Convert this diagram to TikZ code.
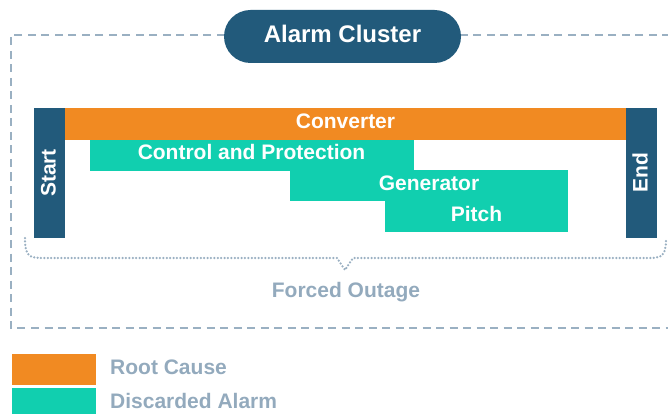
\documentclass[tikz,border=0pt]{standalone}
\usepackage{fontspec}
\setmainfont{Liberation Sans}
\definecolor{navy}{HTML}{225A7B}
\definecolor{rootorange}{HTML}{F18A22}
\definecolor{discteal}{HTML}{11CFAF}
\definecolor{mutedgrey}{HTML}{93AABD}
\definecolor{lineblue}{HTML}{9AB0C2}
\tikzset{
  labelfont/.style={font=\fontsize{21}{25}\selectfont\bfseries},
  bar/.style={labelfont, text=white, inner sep=0pt, outer sep=0pt,
              text height=15pt, text depth=6pt},
  rootbar/.style={bar, fill=rootorange},
  alarmbar/.style={bar, fill=discteal},
  edgebar/.style={bar, fill=navy, rotate=90, minimum width=130pt,
                  minimum height=31pt, text depth=3pt},
  frame/.style={draw=lineblue, line width=2.2pt, dash pattern=on 8pt off 5.5pt},
  bracket/.style={draw=lineblue, line width=2.5pt, line cap=round,
                  dash pattern=on 0pt off 3.4pt},
  greytext/.style={labelfont, text=mutedgrey, inner sep=0pt},
  swatch/.style={inner sep=0pt, minimum width=84pt, minimum height=31pt},
}
\begin{document}
\begin{tikzpicture}[x=1pt,y=-1pt]
\useasboundingbox (0,0) rectangle (668,414);

% dashed cluster frame (open on the right, it runs off the page)
\coordinate (frameTR) at (670,35);
\coordinate (frameTL) at (11,35);
\coordinate (frameBL) at (11,328);
\coordinate (frameBR) at (670,328);
\draw[frame] (frameTR) -- (frameTL) -- (frameBL) -- (frameBR);

% title pill
\node[fill=navy, text=white, font=\fontsize{24}{28}\selectfont\bfseries,
      minimum width=237pt, minimum height=53pt, rounded corners=26.5pt,
      inner sep=0pt, text height=17pt, text depth=4pt]
  (title) at (342.5,36.5) {Alarm Cluster};

% start / end markers
\node[edgebar] (start) at (49.5,173) {Start\hspace{9pt}};
\node[edgebar] (end) at (641.5,173) {End\hspace{9pt}};

% alarm bars
\node[rootbar, minimum width=561pt, minimum height=32pt] (conv) at (345.5,124) {Converter};
\node[alarmbar, minimum width=324pt, minimum height=31pt] (ctrl) at (251.5,155.5) {Control and Protection};
\node[alarmbar, minimum width=278pt, minimum height=31pt] (gen) at (429,185.5) {Generator};
\node[alarmbar, minimum width=183pt, minimum height=31pt] (pitch) at (476.5,216.5) {Pitch};

% dotted bracket spanning the outage
\coordinate (braceL) at (25,238);
\coordinate (braceR) at (666,238);
\coordinate (braceTip) at (345,270);
\draw[bracket] (braceL) .. controls (25,258) and (30,258) .. (45,258)
  -- (337,258) -- (braceTip) -- (353,258) -- (646,258)
  .. controls (661,258) and (666,258) .. (braceR);
\node[greytext, anchor=base] (outage) at (346,297.5) {Forced Outage};

% legend
\node[swatch, fill=rootorange] (keyRoot) at (54,369.5) {};
\node[swatch, fill=discteal] (keyDisc) at (54,403.5) {};
\node[greytext, anchor=base west] (keyRootText) at (110,374.5) {Root Cause};
\node[greytext, anchor=base west] (keyDiscText) at (110,408.5) {Discarded Alarm};
\end{tikzpicture}
\end{document}
